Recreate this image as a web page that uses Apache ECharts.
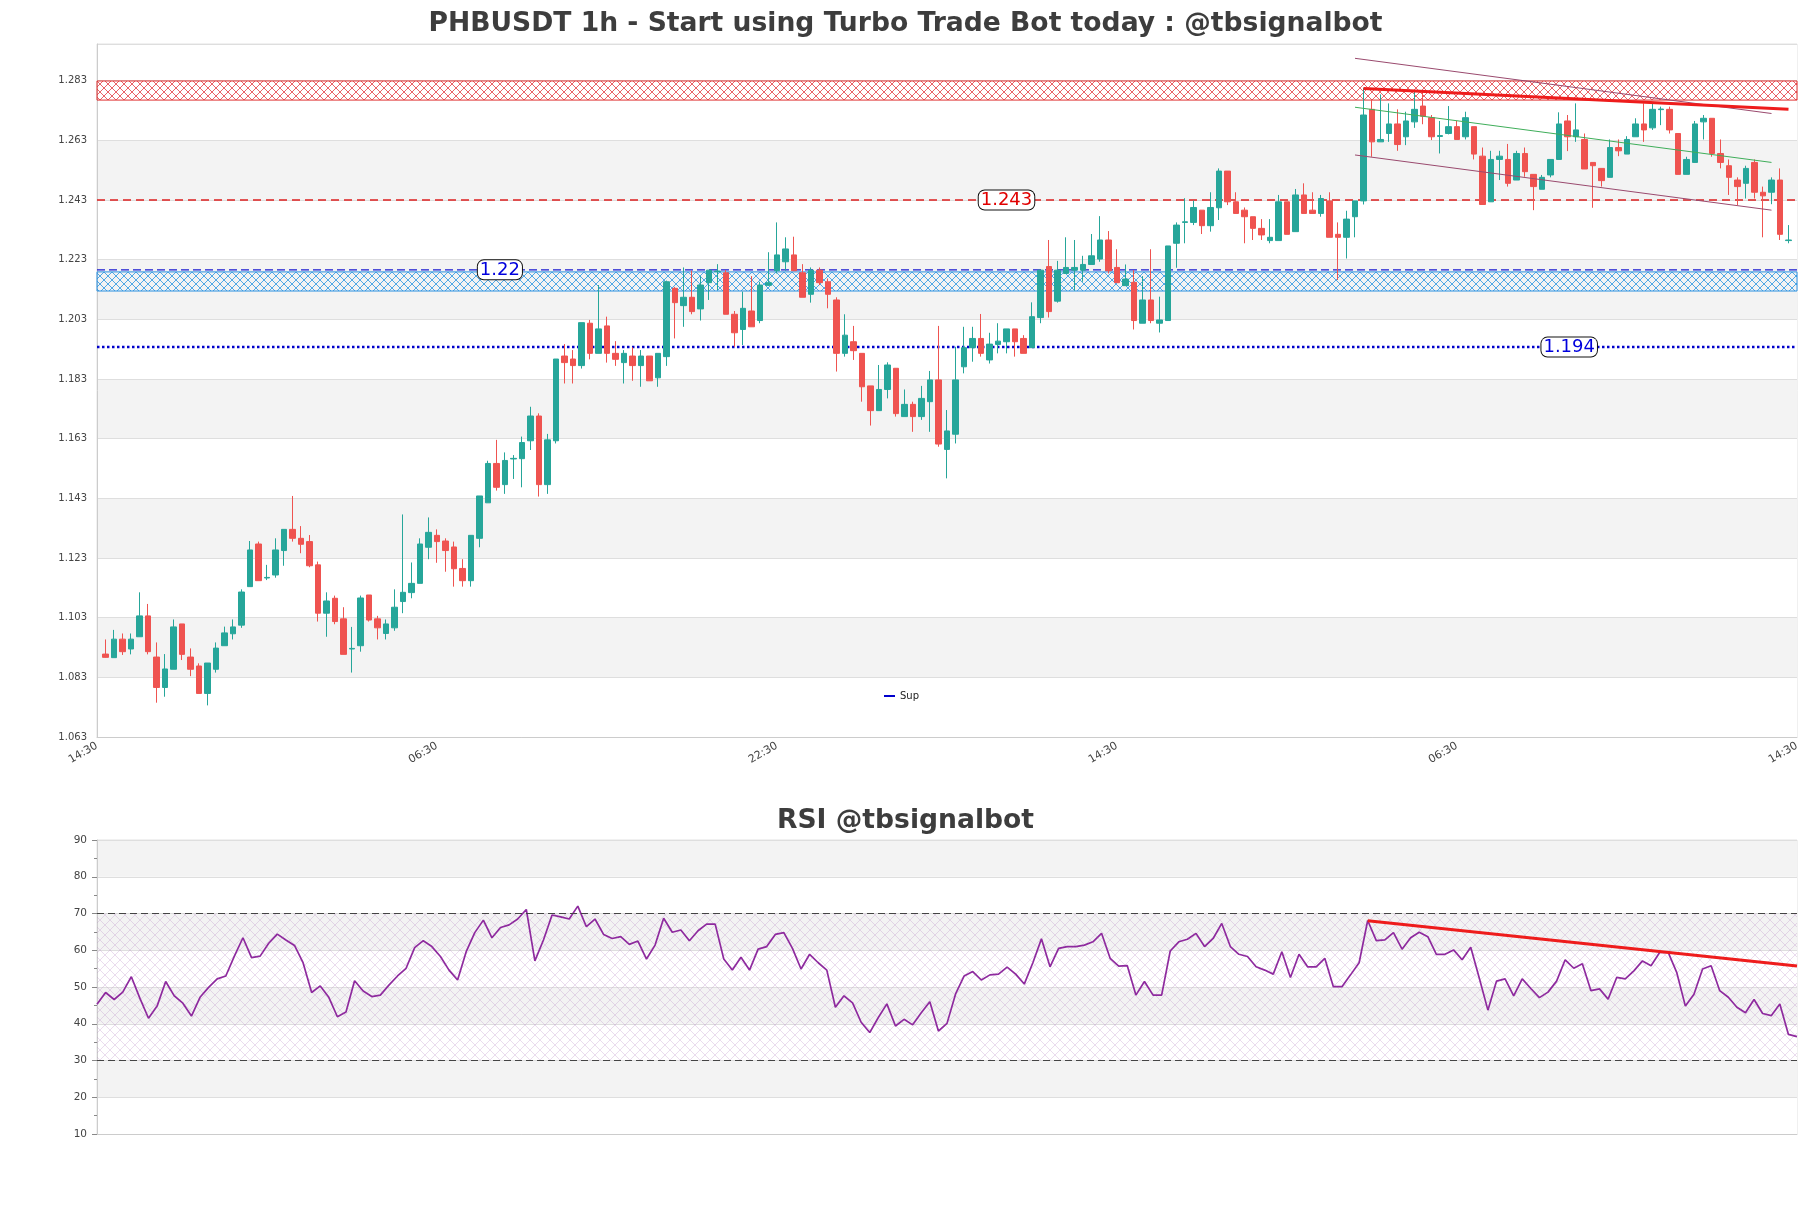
<!DOCTYPE html>
<html><head><meta charset="utf-8">
<script src="https://cdn.jsdelivr.net/npm/echarts@6/dist/echarts.min.js"></script>
<style>html,body{margin:0;padding:0;background:#fff}#c{width:1811px;height:1208px}</style>
</head><body><div id="c"></div>
<script>
// ---------------- data ----------------
const opens = [1.0908,1.0896,1.0958,1.0925,1.0966,1.1036,1.0898,1.0796,1.0857,1.1009,
1.0898,1.0868,1.0776,1.0857,1.0936,1.0976,1.1005,1.1134,1.1277,1.1163,
1.1173,1.1255,1.1326,1.1296,1.1285,1.1207,1.1045,1.1095,1.1026,1.0925,
1.0936,1.1106,1.1026,1.0977,1.0996,1.1084,1.1114,1.1145,1.1266,1.1306,
1.1287,1.1267,1.1195,1.1154,1.1296,1.1415,1.1547,1.1476,1.1562,1.1563,
1.1623,1.1706,1.1476,1.1623,1.1907,1.1897,1.1875,1.2017,1.1916,1.2008,
1.1916,1.1885,1.1907,1.1875,1.1907,1.1834,1.1905,1.2134,1.2076,1.2104,
1.2065,1.2153,1.2190,1.2186,1.2047,1.1996,1.2058,1.2026,1.2144,1.2193,
1.2223,1.2246,1.2186,1.2114,1.2195,1.2156,1.2095,1.1916,1.1955,1.1916,
1.1807,1.1724,1.1795,1.1866,1.1704,1.1745,1.1704,1.1754,1.1827,1.1594,
1.1645,1.1871,1.1935,1.1966,1.1894,1.1946,1.1955,1.1998,1.1966,1.1935,
1.2036,1.2207,1.2091,1.2184,1.2195,1.2195,1.2214,1.2232,1.2296,1.2204,
1.2143,1.2154,1.2017,1.2095,1.2017,1.2026,1.2285,1.2355,1.2355,1.2396,
1.2344,1.2404,1.2527,1.2424,1.2396,1.2374,1.2335,1.2294,1.2294,1.2424,
1.2324,1.2447,1.2396,1.2385,1.2427,1.2315,1.2305,1.2374,1.2427,1.2734,
1.2625,1.2653,1.2685,1.2642,1.2692,1.2745,1.2706,1.2643,1.2653,1.2676,
1.2642,1.2676,1.2577,1.2424,1.2566,1.2566,1.2497,1.2586,1.2516,1.2466,
1.2514,1.2566,1.2695,1.2642,1.2633,1.2556,1.2536,1.2506,1.2606,1.2584,
1.2642,1.2685,1.2672,1.2733,1.2734,1.2653,1.2516,1.2556,1.2692,1.2704,
1.2586,1.2545,1.2497,1.2486,1.2556,1.2456,1.2456,1.2497,1.2294];
const closes = [1.0897,1.0958,1.0916,1.0958,1.1036,1.0916,1.0796,1.0858,1.0999,1.0907,
1.0857,1.0776,1.0878,1.0928,1.0979,1.0999,1.1116,1.1257,1.1154,1.1165,
1.1257,1.1326,1.1296,1.1276,1.1204,1.1045,1.1086,1.1017,1.0907,1.0927,
1.1096,1.1022,1.0996,1.1009,1.1065,1.1115,1.1145,1.1277,1.1316,1.1285,
1.1255,1.1194,1.1154,1.1306,1.1438,1.1547,1.1467,1.1557,1.1564,1.1617,
1.1706,1.1476,1.1626,1.1897,1.1885,1.1875,1.2019,1.1916,1.1998,1.1916,
1.1896,1.1916,1.1875,1.1907,1.1824,1.1916,1.2156,1.2086,1.2104,1.2056,
1.2145,1.2195,1.2192,1.2047,1.1985,1.2067,1.2005,1.2145,1.2153,1.2246,
1.2266,1.2193,1.2104,1.2195,1.2153,1.2114,1.1916,1.1977,1.1925,1.1804,
1.1724,1.1795,1.1877,1.1714,1.1745,1.1704,1.1765,1.1827,1.1612,1.1656,
1.1827,1.1935,1.1966,1.1916,1.1947,1.1957,1.1998,1.1955,1.1916,1.2039,
1.2195,1.2056,1.2195,1.2204,1.2204,1.2214,1.2243,1.2296,1.2193,1.2153,
1.2165,1.2026,1.2095,1.2026,1.2028,1.2276,1.2346,1.2357,1.2405,1.2344,
1.2405,1.2527,1.2424,1.2385,1.2374,1.2335,1.2313,1.2305,1.2424,1.2315,
1.2447,1.2385,1.2385,1.2435,1.2305,1.2305,1.2366,1.2427,1.2715,1.2625,
1.2633,1.2685,1.2616,1.2695,1.2734,1.2711,1.2642,1.2646,1.2676,1.2633,
1.2706,1.2584,1.2415,1.2566,1.2577,1.2486,1.2586,1.2525,1.2475,1.2506,
1.2566,1.2685,1.2642,1.2665,1.2534,1.2545,1.2495,1.2606,1.2595,1.2633,
1.2685,1.2665,1.2734,1.2735,1.2665,1.2516,1.2566,1.2685,1.2704,1.2586,
1.2556,1.2506,1.2475,1.2536,1.2456,1.2444,1.2497,1.2315,1.2296];
const lows = [1.0896,1.0896,1.0905,1.0907,1.0966,1.0907,1.0745,1.0765,1.0857,1.0888,
1.0834,1.0776,1.0736,1.0846,1.0936,1.0957,1.0996,1.1134,1.1154,1.1156,
1.1164,1.1204,1.1285,1.1246,1.1199,1.1017,1.0966,1.1008,1.0907,1.0846,
1.0916,1.1017,1.0957,1.0957,1.0986,1.1045,1.1095,1.1145,1.1226,1.1214,
1.1184,1.1134,1.1134,1.1134,1.1266,1.1415,1.1456,1.1445,1.1495,1.1467,
1.1592,1.1436,1.1445,1.1614,1.1815,1.1815,1.1865,1.1896,1.1916,1.1885,
1.1874,1.1815,1.1824,1.1804,1.1824,1.1804,1.1874,1.1966,1.2005,1.2047,
1.2026,1.2095,1.2128,1.2047,1.1938,1.1944,1.2005,1.2017,1.2142,1.2184,
1.2193,1.2193,1.2104,1.2086,1.2145,1.2067,1.1855,1.1905,1.1894,1.1754,
1.1674,1.1724,1.1765,1.1704,1.1704,1.1653,1.1693,1.1653,1.1603,1.1497,
1.1614,1.1849,1.1888,1.1905,1.1882,1.1916,1.1916,1.1905,1.1916,1.1935,
1.2017,1.2036,1.2086,1.2184,1.2126,1.2156,1.2214,1.2223,1.2184,1.2153,
1.2143,1.1996,1.2017,1.2017,1.1986,1.2026,1.2203,1.2285,1.2346,1.2316,
1.2324,1.2363,1.2413,1.2385,1.2285,1.2296,1.2296,1.2285,1.2294,1.2315,
1.2324,1.2385,1.2385,1.2374,1.2305,1.2162,1.2234,1.2305,1.2415,1.2575,
1.2625,1.2625,1.2595,1.2614,1.2672,1.2684,1.2631,1.2586,1.2650,1.2633,
1.2633,1.2566,1.2415,1.2424,1.2497,1.2475,1.2497,1.2508,1.2396,1.2466,
1.2506,1.2566,1.2594,1.2625,1.2534,1.2404,1.2475,1.2506,1.2577,1.2584,
1.2642,1.2625,1.2665,1.2681,1.2653,1.2516,1.2516,1.2556,1.2633,1.2575,
1.2536,1.2447,1.2413,1.2435,1.2435,1.2305,1.2416,1.2296,1.2285];
const highs = [1.0957,1.0989,1.0977,1.0977,1.1115,1.1076,1.0947,1.0908,1.1024,1.1009,
1.0927,1.0877,1.0878,1.0947,1.1000,1.1024,1.1125,1.1287,1.1285,1.1207,
1.1296,1.1326,1.1438,1.1337,1.1307,1.1218,1.1115,1.1104,1.1065,1.0999,
1.1104,1.1106,1.1036,1.1024,1.1125,1.1376,1.1215,1.1296,1.1366,1.1326,
1.1296,1.1285,1.1226,1.1306,1.1438,1.1556,1.1626,1.1584,1.1575,1.1637,
1.1737,1.1715,1.1646,1.1897,1.1947,1.1927,1.2019,1.2028,1.2145,1.2039,
1.1957,1.1927,1.1936,1.1927,1.1907,1.1916,1.2160,1.2139,1.2204,1.2193,
1.2175,1.2195,1.2215,1.2195,1.2058,1.2123,1.2175,1.2156,1.2255,1.2355,
1.2305,1.2307,1.2215,1.2204,1.2204,1.2167,1.2104,1.2047,1.2008,1.1916,
1.1807,1.1877,1.1886,1.1866,1.1795,1.1754,1.1807,1.1857,1.2008,1.1726,
1.1938,1.2005,1.2005,1.2048,1.1985,1.2017,1.1998,1.1998,1.1977,1.2087,
1.2195,1.2296,1.2226,1.2305,1.2296,1.2243,1.2316,1.2376,1.2326,1.2265,
1.2214,1.2195,1.2175,1.2265,1.2106,1.2276,1.2355,1.2436,1.2428,1.2396,
1.2456,1.2536,1.2527,1.2456,1.2405,1.2374,1.2366,1.2366,1.2447,1.2424,
1.2467,1.2486,1.2456,1.2447,1.2456,1.2355,1.2394,1.2427,1.2806,1.2767,
1.2784,1.2754,1.2734,1.2726,1.2793,1.2793,1.2715,1.2695,1.2745,1.2695,
1.2726,1.2676,1.2606,1.2595,1.2595,1.2618,1.2595,1.2606,1.2516,1.2514,
1.2566,1.2724,1.2715,1.2754,1.2653,1.2556,1.2536,1.2633,1.2633,1.2644,
1.2704,1.2754,1.2754,1.2743,1.2743,1.2653,1.2575,1.2695,1.2715,1.2704,
1.2633,1.2566,1.2506,1.2545,1.2566,1.2475,1.2506,1.2536,1.2346];
const rsi = [45.3,48.5,46.6,48.6,52.8,46.9,41.5,44.8,51.5,47.6,
45.6,42.1,47.2,49.9,52.2,53.0,58.4,63.4,58.0,58.4,
61.9,64.4,62.8,61.3,56.6,48.5,50.3,47.2,41.9,43.2,
51.7,48.9,47.4,47.8,50.5,53.0,55.1,60.7,62.6,61.0,
58.3,54.6,51.9,59.6,64.8,68.2,63.4,66.2,66.9,68.5,
71.1,57.1,62.8,69.6,69.1,68.5,72.0,66.4,68.5,64.3,
63.2,63.7,61.6,62.5,57.6,61.4,68.7,64.9,65.5,62.6,
65.3,67.1,67.1,57.6,54.6,58.1,54.6,60.3,61.0,64.3,
64.8,60.5,54.9,58.9,56.6,54.6,44.5,47.6,45.7,40.4,
37.6,41.7,45.4,39.4,41.2,39.7,43.0,46.0,38.0,40.1,
48.1,53.0,54.2,51.9,53.3,53.5,55.4,53.5,50.8,56.6,
63.1,55.5,60.5,61.0,61.0,61.4,62.3,64.6,57.8,55.7,
55.8,47.8,51.5,47.8,47.8,59.8,62.3,63.0,64.6,61.0,
63.2,67.3,61.0,58.9,58.3,55.5,54.6,53.5,59.6,52.6,
58.9,55.5,55.5,57.8,50.1,50.1,53.3,56.6,68.1,62.6,
62.8,64.8,60.3,63.4,64.9,63.7,58.9,58.9,60.1,57.4,
60.8,52.4,43.7,51.6,52.2,47.6,52.2,49.6,47.1,48.6,
51.6,57.4,55.1,56.3,49.0,49.5,46.7,52.6,52.2,54.4,
57.1,55.8,59.4,59.4,53.9,44.8,48.0,54.9,55.8,49.0,
47.2,44.5,43.0,46.6,42.8,42.2,45.4,37.1,36.5];
const xTickLabels = ['14:30','06:30','22:30','14:30','06:30','14:30'];
const resistanceZone = [1.2765, 1.2829];
const supportZone = [1.2125, 1.2189];
const level1243 = 1.243;
const level122 = 1.2196;
const supLevel = 1.1937;
const trendRed = [[148, 1.2804], [198, 1.2734]];
const channelTop = [[147, 1.2905], [196, 1.2720]];
const channelMid = [[147, 1.2741], [196, 1.2556]];
const channelBot = [[147, 1.2581], [196, 1.2396]];
const rsiTrend = [[148, 68.0], [198, 55.7]];
const rsiLevels = [70, 30];

// ---------------- chart ----------------
const N = opens.length;
const candleData = opens.map((o, i) => [i, o, closes[i], lows[i], highs[i]]);
const rsiData = rsi.map((v, i) => [i, v]);
const X0 = -1, X1 = 199, XSTEP = 40;

function hatch(color, size, lw) {
  const c = document.createElement('canvas');
  c.width = size; c.height = size;
  const g = c.getContext('2d');
  g.strokeStyle = color; g.lineWidth = lw;
  g.beginPath();
  g.moveTo(0, 0); g.lineTo(size, size);
  g.moveTo(size, 0); g.lineTo(0, size);
  g.stroke();
  return c;
}
const redHatch = hatch('rgba(226,50,56,0.85)', 8, 0.9);
const blueHatch = hatch('rgba(40,150,226,0.9)', 8, 0.9);
const rsiHatch = hatch('rgba(185,140,200,0.30)', 10, 1);

const UP = '#26a69a', DOWN = '#ef5350';
const FONT = 'DejaVu Sans';
const bandColors = ['#ffffff','#f3f3f3','#ffffff','#f3f3f3','#ffffff','#f3f3f3',
                    '#ffffff','#f3f3f3','#ffffff','#f3f3f3','#ffffff','#ffffff'];

function hLine(value) { return [[X0, value], [X1, value]]; }
function boxLabel(text, x, y, color) {
  return {
    symbol: 'rect', symbolSize: 1, itemStyle: { color: 'rgba(0,0,0,0)' },
    silent: true,
    label: { show: true, position: 'inside', formatter: text, fontFamily: FONT, fontSize: 18,
             color: color, backgroundColor: '#fff', borderColor: '#111', borderWidth: 1,
             borderRadius: 6, padding: [0, 2, 0, 2], lineHeight: 19 },
    data: [{ coord: [x, y] }]
  };
}

const chart = echarts.init(document.getElementById('c'), null, { renderer: 'canvas' });
chart.setOption({
  animation: false,
  backgroundColor: '#ffffff',
  textStyle: { fontFamily: FONT },
  title: [
    { text: 'PHBUSDT 1h - Start using Turbo Trade Bot today : @tbsignalbot', left: 'center', top: 6,
      textStyle: { fontFamily: FONT, fontSize: 26.6, fontWeight: 'bold', color: '#3d3d3d' } },
    { text: 'RSI @tbsignalbot', left: 'center', top: 803,
      textStyle: { fontFamily: FONT, fontSize: 26.6, fontWeight: 'bold', color: '#3d3d3d' } }
  ],
  legend: { data: ['Sup'], left: 879, top: 686, icon: 'rect', itemWidth: 11, itemHeight: 2, itemGap: 5,
            textStyle: { fontFamily: FONT, fontSize: 10, color: '#222' } },
  grid: [
    { left: 97, top: 44, width: 1700, height: 693, show: true, borderColor: '#e2e2e2', borderWidth: 1 },
    { left: 97, top: 840, width: 1700, height: 294, show: true, borderColor: '#e2e2e2', borderWidth: 1 }
  ],
  xAxis: [
    { gridIndex: 0, type: 'value', min: X0, max: X1, interval: XSTEP,
      axisLine: { show: true, onZero: false, lineStyle: { color: '#cccccc' } }, axisTick: { show: false },
      splitLine: { show: false },
      axisLabel: { rotate: 30, fontFamily: FONT, fontSize: 11, color: '#444', margin: 8,
                   formatter: v => xTickLabels[Math.round((v - X0) / XSTEP)] || '' } },
    { gridIndex: 1, type: 'value', min: 0, max: N - 1,
      axisLine: { show: true, onZero: false, lineStyle: { color: '#cccccc' } }, axisTick: { show: false },
      axisLabel: { show: false }, splitLine: { show: false } }
  ],
  yAxis: [
    { gridIndex: 0, type: 'value', min: 1.063, max: 1.2953, interval: 0.02,
      axisLine: { show: true, onZero: false, lineStyle: { color: '#cccccc' } }, axisTick: { show: false },
      axisLabel: { fontFamily: FONT, fontSize: 10, color: '#444', margin: 10, showMaxLabel: false,
                   formatter: v => v.toFixed(3) },
      splitLine: { show: true, lineStyle: { color: '#dedede' } },
      splitArea: { show: true, areaStyle: { color: bandColors } } },
    { gridIndex: 1, type: 'value', min: 10, max: 90, interval: 10,
      axisLine: { show: true, onZero: false, lineStyle: { color: '#cccccc' } },
      axisTick: { show: true, length: 5, lineStyle: { color: '#888' } },
      minorTick: { show: true, splitNumber: 2, length: 3, lineStyle: { color: '#888' } },
      axisLabel: { fontFamily: FONT, fontSize: 10.5, color: '#444', margin: 10 },
      splitLine: { show: true, lineStyle: { color: '#dedede' } },
      splitArea: { show: true, areaStyle: { color: ['#ffffff', '#f3f3f3'] } } }
  ],
  series: [
    { name: 'zones', type: 'line', xAxisIndex: 0, yAxisIndex: 0, data: hLine(level1243), z: 1,
      symbol: 'none', silent: true,
      lineStyle: { color: '#dd1f1f', width: 1.3, type: [8, 5] },
      markArea: { silent: true, data: [
        [ { xAxis: X0, yAxis: resistanceZone[0],
            itemStyle: { color: { image: redHatch, repeat: 'repeat' }, borderColor: '#e03030', borderWidth: 1 } },
          { xAxis: X1, yAxis: resistanceZone[1] } ],
        [ { xAxis: X0, yAxis: supportZone[0],
            itemStyle: { color: { image: blueHatch, repeat: 'repeat' }, borderColor: '#2a90e0', borderWidth: 1 } },
          { xAxis: X1, yAxis: supportZone[1] } ]
      ] },
      markPoint: boxLabel('1.243', 106, level1243, '#e00000') },
    { name: 'lvl122', type: 'line', xAxisIndex: 0, yAxisIndex: 0, data: hLine(level122), z: 1,
      symbol: 'none', silent: true,
      lineStyle: { color: '#1a1ad0', width: 1.3, type: [8, 4] },
      markPoint: boxLabel('1.22', 46.4, level122, '#0000dd') },
    { name: 'Sup', type: 'line', xAxisIndex: 0, yAxisIndex: 0, data: hLine(supLevel), z: 1,
      symbol: 'none', silent: true, color: '#0000cc',
      lineStyle: { color: '#0000cc', width: 2.5, type: 'dotted' },
      markPoint: boxLabel('1.194', 172.2, supLevel, '#0000dd') },
    { name: 'PHBUSDT', type: 'candlestick', xAxisIndex: 0, yAxisIndex: 0, data: candleData,
      encode: { x: 0, y: [1, 2, 3, 4] }, barWidth: 6, z: 2,
      itemStyle: { color: UP, color0: DOWN, borderColor: UP, borderColor0: DOWN, borderWidth: 1 } },
    { name: 'trendRed', type: 'line', xAxisIndex: 0, yAxisIndex: 0, data: trendRed, z: 4,
      symbol: 'none', silent: true, lineStyle: { color: '#ee1c1c', width: 3 } },
    { name: 'chTop', type: 'line', xAxisIndex: 0, yAxisIndex: 0, data: channelTop, z: 3,
      symbol: 'none', silent: true, lineStyle: { color: '#9a4a6e', width: 1 } },
    { name: 'chMid', type: 'line', xAxisIndex: 0, yAxisIndex: 0, data: channelMid, z: 3,
      symbol: 'none', silent: true, lineStyle: { color: '#3fae5a', width: 1 } },
    { name: 'chBot', type: 'line', xAxisIndex: 0, yAxisIndex: 0, data: channelBot, z: 3,
      symbol: 'none', silent: true, lineStyle: { color: '#9a4a6e', width: 1 } },
    { name: 'RSI', type: 'line', xAxisIndex: 1, yAxisIndex: 1, data: rsiData, z: 3,
      symbol: 'none', silent: true, lineStyle: { color: '#8e2a9e', width: 1.7 },
      markArea: { silent: true, data: [[
        { xAxis: 0, yAxis: rsiLevels[1], itemStyle: { color: { image: rsiHatch, repeat: 'repeat' } } },
        { xAxis: N - 1, yAxis: rsiLevels[0] } ]] },
      markLine: { silent: true, symbol: ['none', 'none'], label: { show: false },
        lineStyle: { color: '#444', width: 1.2, type: [7, 4] },
        data: rsiLevels.map(v => ({ yAxis: v })) } },
    { name: 'rsiTrend', type: 'line', xAxisIndex: 1, yAxisIndex: 1, data: rsiTrend, z: 4,
      symbol: 'none', silent: true, lineStyle: { color: '#ee1c1c', width: 3 } }
  ]
});
</script>
</body></html>
